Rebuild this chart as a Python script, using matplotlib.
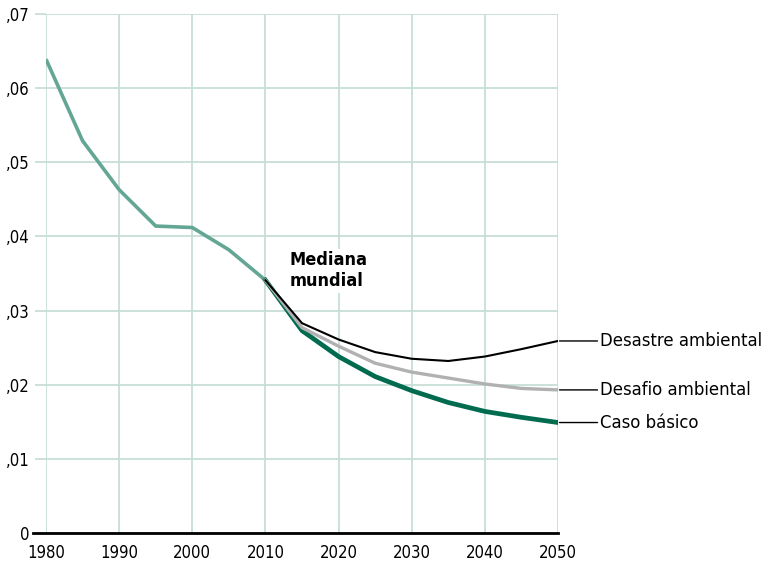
import matplotlib.pyplot as plt
from matplotlib.lines import Line2D

plt.rcParams['font.family'] = ['DejaVu Sans']
plt.rcParams['font.stretch'] = 'condensed'

# historical median, every 5 years
hist_years = [1980, 1985, 1990, 1995, 2000, 2005, 2010]
hist_vals = [0.0639, 0.0529, 0.0463, 0.0414, 0.0412, 0.0382, 0.0341]

proj_years = [2010, 2015, 2020, 2025, 2030, 2035, 2040, 2045, 2050]
desastre = [0.0341, 0.0283, 0.0261, 0.0244, 0.0235, 0.0232, 0.0238, 0.0248, 0.0259]
desafio = [0.0341, 0.0277, 0.0252, 0.0229, 0.0217, 0.0209, 0.0201, 0.0195, 0.0193]
basico = [0.0341, 0.0273, 0.0238, 0.0211, 0.0192, 0.0176, 0.0164, 0.0156, 0.0149]

scenario_labels = ['Desastre ambiental', 'Desafio ambiental', 'Caso básico']

xticks = [1980, 1990, 2000, 2010, 2020, 2030, 2040, 2050]
yticks = [0, 0.01, 0.02, 0.03, 0.04, 0.05, 0.06, 0.07]
ytick_labels = ['0', ',01', ',02', ',03', ',04', ',05', ',06', ',07']

GRID = '#c6ded6'
HIST = '#64a694'
DARK = '#006b4f'
GREY = '#b1b1b3'

fig = plt.figure(figsize=(7.63, 5.62), dpi=100)
ax = fig.add_axes([46 / 763, 29 / 562, 512 / 763, 519 / 562])
ax.set_xlim(1980, 2050)
ax.set_ylim(0, 0.07)

for s in ax.spines.values():
    s.set_visible(False)

ax.set_xticks(xticks)
ax.set_yticks(yticks)
ax.set_yticklabels(ytick_labels)
ax.grid(True, color=GRID, linewidth=1.3, zorder=0)
ax.tick_params(axis='x', length=0, pad=8, labelsize=12)
ax.tick_params(axis='y', length=8, width=1.3, color=GRID, pad=4, labelsize=12)

# zero baseline
ax.add_line(Line2D([-13 / 512, 1], [0, 0], transform=ax.transAxes,
                   color='black', linewidth=2, clip_on=False, zorder=3))

ax.plot(hist_years, hist_vals, color=HIST, linewidth=2.6, zorder=4,
        solid_capstyle='butt')
ax.plot(proj_years, basico, color=DARK, linewidth=3.4, zorder=4)
ax.plot(proj_years, desafio, color=GREY, linewidth=2.4, zorder=4)
ax.plot(proj_years, desastre, color='black', linewidth=1.5, zorder=5)

# labels at line ends with leader lines
ends = [desastre[-1], desafio[-1], basico[-1]]
for lab, yv in zip(scenario_labels, ends):
    ax.annotate('', xy=(2050.2, yv), xytext=(2055.4, yv),
                arrowprops=dict(arrowstyle='-', color='black', linewidth=1,
                                shrinkA=0, shrinkB=0),
                annotation_clip=False)
    ax.text(2055.8, yv, lab, fontsize=13.2, va='center', ha='left', clip_on=False)

ax.text(2013.3, 0.0380, 'Mediana\nmundial', fontsize=13, fontweight='bold',
        va='top', ha='left', linespacing=1.2, zorder=6,
        bbox=dict(facecolor='white', edgecolor='none', pad=2))

fig.savefig('out.png', dpi=100)
